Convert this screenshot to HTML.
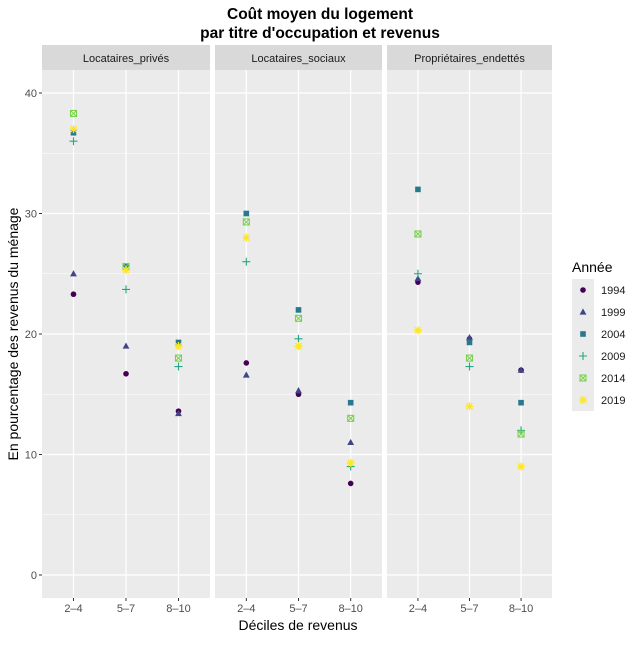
<!DOCTYPE html>
<html><head><meta charset="utf-8"><style>
body{margin:0;background:#fff;font-family:"Liberation Sans",Arial,sans-serif}
</style></head><body>
<svg id="chart" width="640" height="640" xmlns="http://www.w3.org/2000/svg" font-family="Liberation Sans, Arial, sans-serif">
<text x="320" y="19" text-anchor="middle" font-size="15.5" font-weight="bold">Coût moyen du logement</text>
<text x="320" y="38" text-anchor="middle" font-size="15.5" font-weight="bold">par titre d'occupation et revenus</text>
<text x="298" y="630" text-anchor="middle" font-size="14">Déciles de revenus</text>
<text transform="translate(18,334) rotate(-90)" text-anchor="middle" font-size="14">En pourcentage des revenus du ménage</text>
<g id="layer"></g>
</svg>
<script>
const panels = ["Locataires_privés","Locataires_sociaux","Propriétaires_endettés"];
const categories = ["2–4","5–7","8–10"];
const years = ["1994","1999","2004","2009","2014","2019"];
const yTicks = [0,10,20,30,40];
// values[panel][year][category]
const lp1994=[23.3,16.7,13.6], lp1999=[25,19,13.4], lp2004=[36.7,25.6,19.3], lp2009=[36,23.7,17.3], lp2014=[38.3,25.6,18], lp2019=[37,25.3,19];
const ls1994=[17.6,15,7.6], ls1999=[16.6,15.3,11], ls2004=[30,22,14.3], ls2009=[26,19.6,9], ls2014=[29.3,21.3,13], ls2019=[28,19,9.3];
const pe1994=[24.3,19.6,17], pe1999=[24.6,19.7,17], pe2004=[32,19.3,14.3], pe2009=[25,17.3,12], pe2014=[28.3,18,11.7], pe2019=[20.3,14,9];
const values=[[lp1994,lp1999,lp2004,lp2009,lp2014,lp2019],[ls1994,ls1999,ls2004,ls2009,ls2014,ls2019],[pe1994,pe1999,pe2004,pe2009,pe2014,pe2019]];
const colors=["#440154","#414487","#2A788E","#22A884","#7AD151","#FDE725"];
const shapes=["circle","triangle","square","plus","boxx","star"];
const NS="http://www.w3.org/2000/svg";
const L=document.getElementById('layer');
const px=[[42,210],[215,382],[387,552]], pTop=70, pBot=598;
const yS=v=>575-v*12.05;
const xS=(p,i)=>px[p][0]+(i+0.6)*(px[p][1]-px[p][0])/3.2;
function mk(t,a,parent){const e=document.createElementNS(NS,t);for(const k in a)e.setAttribute(k,a[k]);(parent||L).appendChild(e);return e;}
function marker(s,cx,cy,c,parent){
  const g=mk('g',{},parent);
  if(s==="circle")mk('circle',{cx,cy,r:2.8,fill:c},g);
  else if(s==="triangle")mk('polygon',{points:`${cx},${cy-3.6} ${cx-3.4},${cy+2.6} ${cx+3.4},${cy+2.6}`,fill:c},g);
  else if(s==="square")mk('rect',{x:cx-2.8,y:cy-2.8,width:5.6,height:5.6,fill:c},g);
  else if(s==="plus"){mk('path',{d:`M${cx-4},${cy}H${cx+4}M${cx},${cy-4}V${cy+4}`,stroke:c,'stroke-width':1.1},g);}
  else if(s==="boxx"){mk('rect',{x:cx-3,y:cy-3,width:6,height:6,fill:'none',stroke:c,'stroke-width':1.1},g);mk('path',{d:`M${cx-3},${cy-3}L${cx+3},${cy+3}M${cx+3},${cy-3}L${cx-3},${cy+3}`,stroke:c,'stroke-width':1},g);}
  else {mk('path',{d:`M${cx-4},${cy}H${cx+4}M${cx},${cy-4}V${cy+4}M${cx-3},${cy-3}L${cx+3},${cy+3}M${cx+3},${cy-3}L${cx-3},${cy+3}`,stroke:c,'stroke-width':1.3},g);}
  return g;
}
panels.forEach((name,p)=>{
  const [x0,x1]=px[p];
  const bg=mk('rect',{x:x0,y:pTop,width:x1-x0,height:pBot-pTop,fill:'#EBEBEB'});
  
  
  for(let v=5;v<45;v+=10){if(yS(v)>pTop)mk('line',{x1:x0,x2:x1,y1:yS(v),y2:yS(v),stroke:'#fff','stroke-width':0.6});}
  yTicks.forEach(v=>mk('line',{x1:x0,x2:x1,y1:yS(v),y2:yS(v),stroke:'#fff','stroke-width':1.2}));
  categories.forEach((c,i)=>{
    mk('line',{x1:xS(p,i),x2:xS(p,i),y1:pTop,y2:pBot,stroke:'#fff','stroke-width':1.2});
    mk('line',{x1:xS(p,i),x2:xS(p,i),y1:pBot,y2:pBot+3,stroke:'#333','stroke-width':1});
    const t=mk('text',{x:xS(p,i),y:pBot+14,'text-anchor':'middle','font-size':11,fill:'#4D4D4D'});t.textContent=c;
    
    
  });
  const sr=mk('rect',{x:x0,y:45,width:x1-x0,height:25,fill:'#D9D9D9'});
  
  
  const st=mk('text',{x:(x0+x1)/2,y:62,'text-anchor':'middle','font-size':11,fill:'#1A1A1A'});st.textContent=name;
  
  
  years.forEach((yr,k)=>categories.forEach((c,i)=>{
    const m=marker(shapes[k],xS(p,i),yS(values[p][k][i]),colors[k]);
    
    
  }));
});
yTicks.forEach(v=>{
  mk('line',{x1:39,x2:42,y1:yS(v),y2:yS(v),stroke:'#333','stroke-width':1});
  const t=mk('text',{x:37,y:yS(v)+4,'text-anchor':'end','font-size':11,fill:'#4D4D4D'});t.textContent=v;
  
  
});
const lt=mk('text',{x:572,y:272,'font-size':14});lt.textContent="Année";


years.forEach((yr,k)=>{
  const cy=290+k*22;
  mk('rect',{x:572,y:cy-11,width:22,height:22,fill:'#EBEBEB'});
  const m=marker(shapes[k],583,cy,colors[k]);
  
  
  const t=mk('text',{x:601,y:cy+4,'font-size':11,fill:'#1A1A1A'});t.textContent=yr;
  
  
});
</script>
</body></html>
